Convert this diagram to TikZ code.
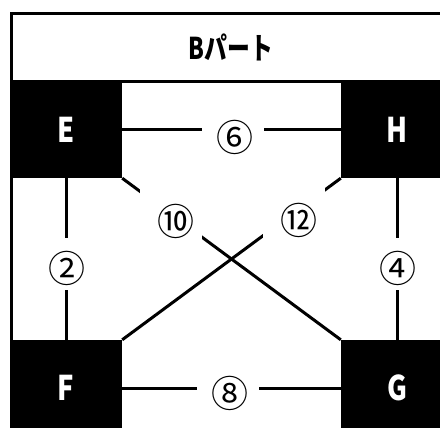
\documentclass[tikz,border=0pt]{standalone}
\usepackage{fontspec}
\newfontfamily\jp{Noto Sans CJK JP}
\newcommand{\condtext}[1]{\scalebox{0.8}[1]{#1}}
\tikzset{
  unitbox/.style={rectangle, fill=black, minimum width=112pt, minimum height=96pt, inner sep=0pt, text=white, font=\jp\bfseries\fontsize{34}{40}\selectfont},
  conn/.style={line width=3pt},
  gapbox/.style={rectangle, fill=white, minimum width=62pt, minimum height=52pt, inner sep=0pt},
  numtext/.style={font=\jp\fontsize{37}{42}\selectfont, inner sep=0pt},
  framestyle/.style={line width=3pt},
}
\begin{document}
\begin{tikzpicture}[x=1pt,y=-1pt]
\useasboundingbox (0,0) rectangle (440,428);
\clip (0,0) rectangle (440,428);
% frame and header
\draw[framestyle] (11.5,13.5) rectangle (451.5,441);
\draw[framestyle] (11.5,81.5) -- (451.5,81.5);
\node[font=\jp\bfseries\fontsize{30}{36}\selectfont, inner sep=0pt] (title) at (231,47.5) {\scalebox{0.76}[1]{Bパート}};
% units
\node[unitbox] (E) at (66,130) {\condtext{E}};
\node[unitbox] (H) at (397,130) {\condtext{H}};
\node[unitbox] (F) at (66,388) {\condtext{F}};
\node[unitbox] (G) at (397,388) {\condtext{G}};
% connectors
\draw[conn] (E) -- node[gapbox, pos=0.507, label={[numtext,xshift=2pt,yshift=-7pt]center:⑥}] (n6) {} (H);
\draw[conn] (F) -- node[gapbox, pos=0.486, label={[numtext,xshift=2pt,yshift=-5pt]center:⑧}] (n8) {} (G);
\draw[conn] (E) -- node[gapbox, pos=0.53, label={[numtext,xshift=1pt,yshift=-5pt]center:②}] (n2) {} (F);
\draw[conn] (H) -- node[gapbox, pos=0.53, label={[numtext,xshift=1pt,yshift=-5pt]center:④}] (n4) {} (G);
\draw[conn] (E.south east) -- node[gapbox, pos=0.224, label={[numtext,xshift=5pt,yshift=-7pt]center:⑩}] (n10) {} (G.north west);
\draw[conn] (H.south west) -- node[gapbox, pos=0.215, label={[numtext,xshift=5pt,yshift=-7pt]center:⑫}] (n12) {} (F.north east);
\end{tikzpicture}
\end{document}
